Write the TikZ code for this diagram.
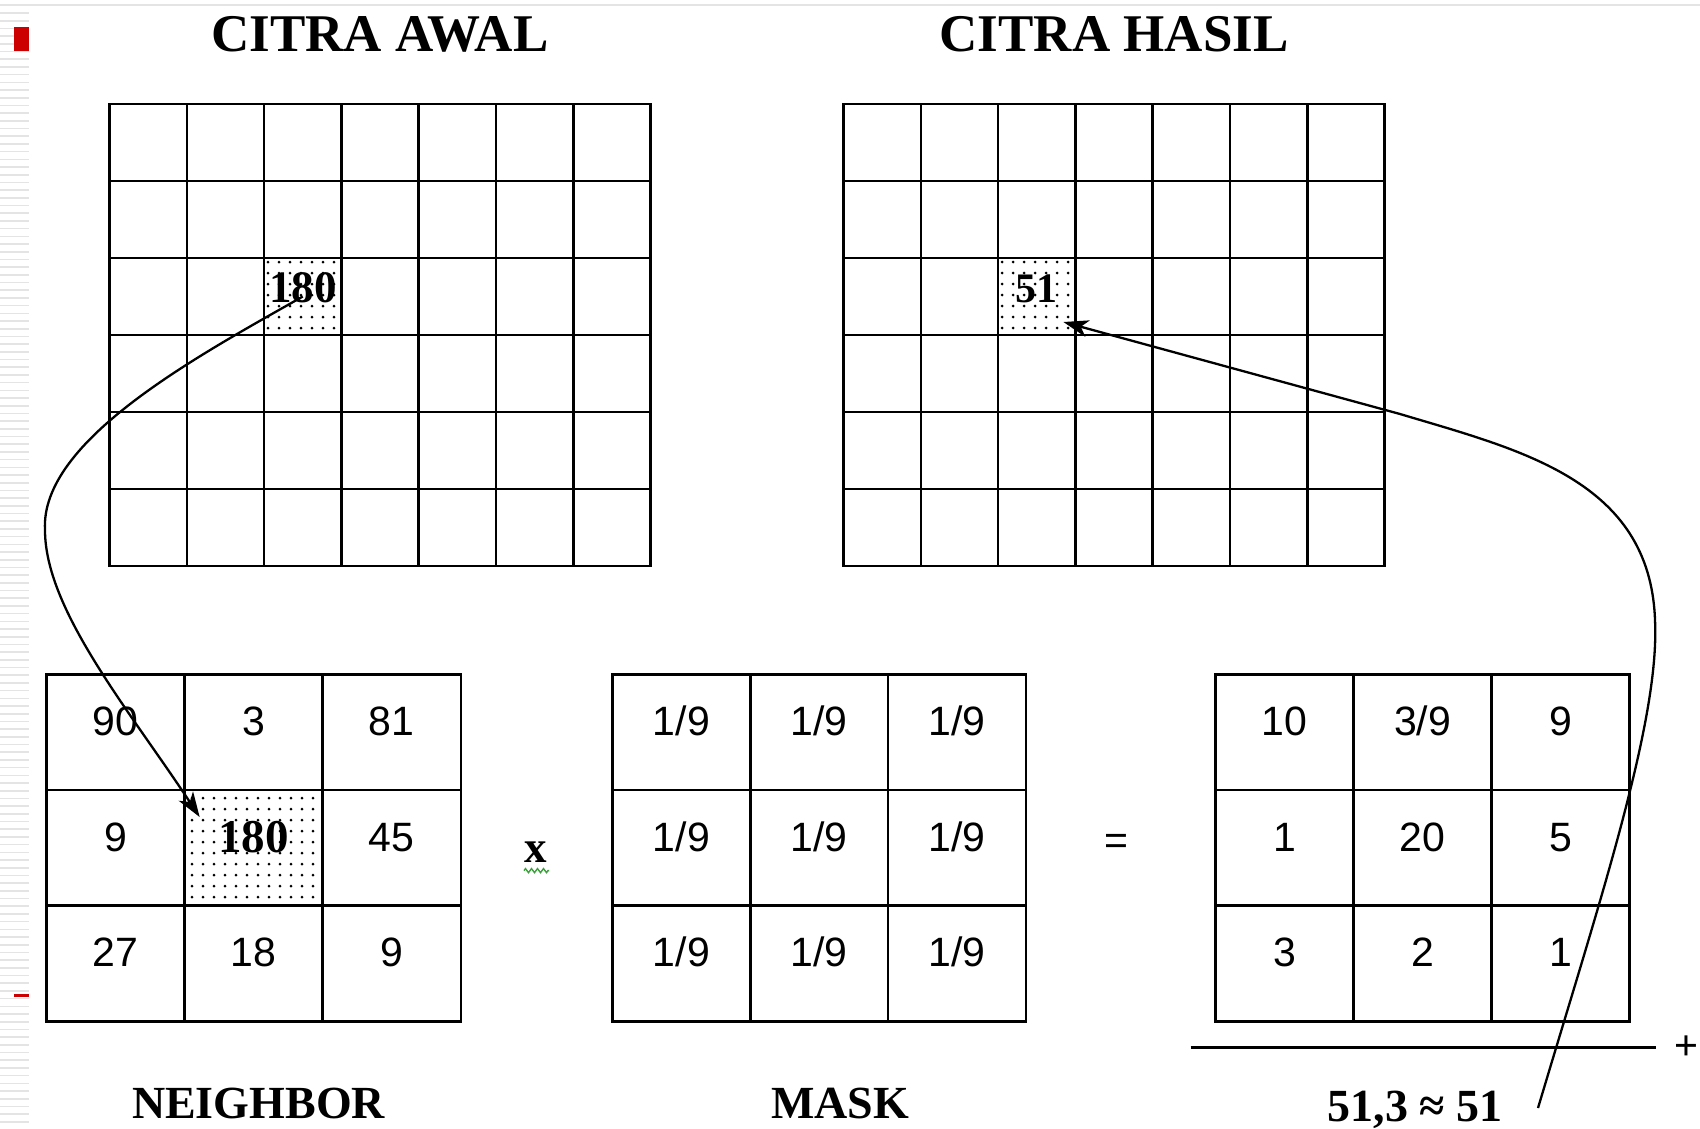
\documentclass[tikz,border=0pt]{standalone}
\usepackage{fontspec}
\setmainfont{Liberation Serif}
\newfontfamily\cellfont{Liberation Sans}
\usetikzlibrary{calc,arrows.meta,decorations.pathmorphing}
\definecolor{pptred}{HTML}{CC0000}
\definecolor{stripe}{HTML}{E4E4E4}
\definecolor{squig}{HTML}{3CA03C}
\begin{document}
\begin{tikzpicture}[x=1pt,y=-1pt,
  cellbox/.style={draw, line width=2.5pt, inner sep=0pt, outer sep=0pt, rectangle},
  bigcell/.style={cellbox, minimum width=77.3pt, minimum height=77pt},
  smallcell/.style={cellbox, minimum width=138.07pt, minimum height=115.63pt},
  numtxt/.style={inner sep=0pt, anchor=base, font=\cellfont\fontsize{41}{41}\selectfont},
  boldnum/.style={inner sep=0pt, anchor=base, font=\bfseries\fontsize{45}{45}\selectfont},
  titletxt/.style={inner sep=0pt, anchor=base, font=\bfseries\fontsize{53}{53}\selectfont},
  labeltxt/.style={inner sep=0pt, anchor=base, font=\bfseries\fontsize{46}{46}\selectfont},
  conn/.style={line width=2.3pt, -{Stealth[length=25pt,width=17pt,inset=7pt]}},
  dotfill/.style={fill=black}
]
% page
\fill[white] (0,0) rectangle (1700,1128);
\useasboundingbox (0,0) rectangle (1700,1128);
\draw[stripe, line width=2.5pt] (0,5) -- (1700,5);
\foreach \k in {0,...,144} \draw[stripe, line width=1.6pt] (0,{13+7.7*\k}) -- (29,{13+7.7*\k});
\fill[pptred] (14,27) rectangle (29,51);
\fill[pptred] (14,993.5) rectangle (29,996.5);

% dotted backgrounds
\begin{scope}
  \clip (264.1,258) rectangle (341.4,335);
  \foreach \i in {0,...,7} \foreach \j in {0,...,7} \fill[dotfill] ({268+11*\i},{262+11*\j}) circle (1.5pt);
\end{scope}
\begin{scope}
  \clip (998.1,258) rectangle (1075.4,335);
  \foreach \i in {0,...,7} \foreach \j in {0,...,7} \fill[dotfill] ({1002+11*\i},{262+11*\j}) circle (1.5pt);
\end{scope}
\begin{scope}
  \clip (184.7,790) rectangle (322.7,905.7);
  \foreach \i in {0,...,12} \foreach \j in {0,...,10} \fill[dotfill] ({192+11*\i},{798+11*\j}) circle (1.5pt);
\end{scope}

% top grids
\foreach \c in {0,...,6} \foreach \r in {0,...,5} {
  \node[bigcell] (aw-\c-\r) at ({109.5+77.3*(\c+0.5)},{104+77*(\r+0.5)}) {};
  \node[bigcell] (hs-\c-\r) at ({843.5+77.3*(\c+0.5)},{104+77*(\r+0.5)}) {};
}
\node[titletxt] (title1) at (380,51) {CITRA AWAL};
\node[titletxt] (title2) at (1114,51) {CITRA HASIL};
\node[boldnum] (v180) at ($(aw-2-2.north)+(0,44.5)$) {180};
\node[boldnum, font=\bfseries\fontsize{42}{42}\selectfont] (v51) at ($(hs-2-2.north)+(0,44.5)$) {51};

% bottom grids
\foreach \c in {0,1,2} \foreach \r in {0,1,2} {
  \node[smallcell] (nb-\c-\r) at ({46.6+138.07*(\c+0.5)},{674.4+115.63*(\r+0.5)}) {};
  \node[smallcell] (mk-\c-\r) at ({612.6+137.7*(\c+0.5)},{674.4+115.63*(\r+0.5)}) {};
  \node[smallcell] (rs-\c-\r) at ({1215.4+138.07*(\c+0.5)},{674.4+115.63*(\r+0.5)}) {};
  \node[numtxt] (mt-\c-\r) at ($(mk-\c-\r.north)+(0,61)$) {1/9};
}
\node[numtxt] (nt-0-0) at ($(nb-0-0.north)+(0,61)$) {90};
\node[numtxt] (nt-1-0) at ($(nb-1-0.north)+(0,61)$) {3};
\node[numtxt] (nt-2-0) at ($(nb-2-0.north)+(0,61)$) {81};
\node[numtxt] (nt-0-1) at ($(nb-0-1.north)+(0,61)$) {9};
\node[boldnum, font=\bfseries\fontsize{47}{47}\selectfont] (nt-1-1) at ($(nb-1-1.north)+(0,62)$) {180};
\node[numtxt] (nt-2-1) at ($(nb-2-1.north)+(0,61)$) {45};
\node[numtxt] (nt-0-2) at ($(nb-0-2.north)+(0,61)$) {27};
\node[numtxt] (nt-1-2) at ($(nb-1-2.north)+(0,61)$) {18};
\node[numtxt] (nt-2-2) at ($(nb-2-2.north)+(0,61)$) {9};

\node[numtxt] (rt-0-0) at ($(rs-0-0.north)+(0,61)$) {10};
\node[numtxt] (rt-1-0) at ($(rs-1-0.north)+(0,61)$) {3/9};
\node[numtxt] (rt-2-0) at ($(rs-2-0.north)+(0,61)$) {9};
\node[numtxt] (rt-0-1) at ($(rs-0-1.north)+(0,61)$) {1};
\node[numtxt] (rt-1-1) at ($(rs-1-1.north)+(0,61)$) {20};
\node[numtxt] (rt-2-1) at ($(rs-2-1.north)+(0,61)$) {5};
\node[numtxt] (rt-0-2) at ($(rs-0-2.north)+(0,61)$) {3};
\node[numtxt] (rt-1-2) at ($(rs-1-2.north)+(0,61)$) {2};
\node[numtxt] (rt-2-2) at ($(rs-2-2.north)+(0,61)$) {1};

% operators
\node[boldnum] (times) at (535.6,862) {x};
\draw[squig, line width=1.4pt, decorate, decoration={zigzag, segment length=6pt, amplitude=2pt}] (524,870.6) -- (549,870.6);
\node[inner sep=0pt, font=\cellfont\fontsize{41}{41}\selectfont] (equals) at (1116.7,844.6) {=};
\coordinate (ruleL) at (1190.5,1047.3);
\coordinate (ruleR) at (1655.6,1047.3);
\draw[line width=2.5pt] (ruleL) -- (ruleR);
\node[inner sep=0pt, font=\cellfont\fontsize{41}{41}\selectfont] (plus) at (1686,1047.3) {+};

% labels
\node[labeltxt] (lblN) at (258.6,1118) {NEIGHBOR};
\node[labeltxt] (lblM) at (840,1118) {MASK};
\node[labeltxt] (lblR) at (1415,1121) {51,3 ≈ 51};

% connectors
\draw[conn] (aw-2-2.center) .. controls (200,355) and (40,440) .. (45,530)
   .. controls (45,610) and (130,711) .. ($(nb-1-1.north west)+(15,27)$);
\coordinate (c2start) at (1538,1108);
\draw[conn] (c2start) .. controls (1600,900) and (1660,720) .. (1655,620)
   .. controls (1650,480) and (1520,450) .. (1400,414)
   -- ($(hs-2-2.south east)+(-12,-13)$);
\end{tikzpicture}
\end{document}
